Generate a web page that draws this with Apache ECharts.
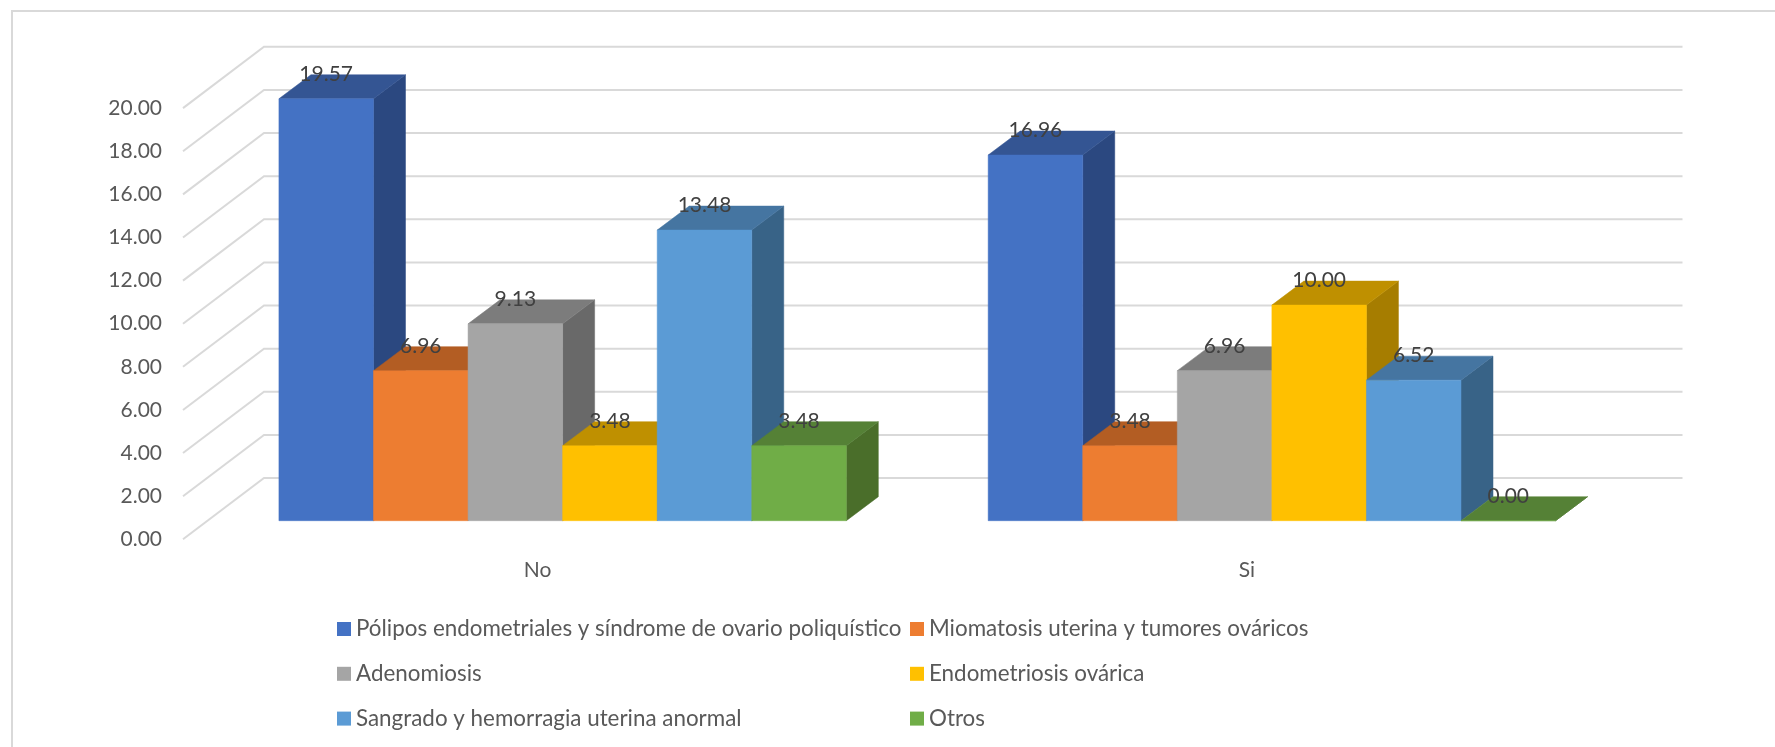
<!DOCTYPE html>
<html>
<head>
<meta charset="utf-8">
<style>html,body{margin:0;padding:0;background:#fff}#c{width:1775px;height:747px}</style>
<script src="https://cdn.jsdelivr.net/npm/echarts@6/dist/echarts.min.js"></script>
</head>
<body>
<div id="c"></div>
<script>
const categories = ['No', 'Si'];
const ticks = [0, 2, 4, 6, 8, 10, 12, 14, 16, 18, 20];
const polipos = [19.57, 16.96];
const miomatosis = [6.96, 3.48];
const adenomiosis = [9.13, 6.96];
const endometriosis = [3.48, 10.00];
const sangrado = [13.48, 6.52];
const otros = [3.48, 0.00];
const names = [
  'Pólipos endometriales y síndrome de ovario poliquístico',
  'Miomatosis uterina y tumores ováricos',
  'Adenomiosis',
  'Endometriosis ovárica',
  'Sangrado y hemorragia uterina anormal',
  'Otros'
];
const valuesBySeries = [polipos, miomatosis, adenomiosis, endometriosis, sangrado, otros];
const front = ['#4472C4', '#ED7D31', '#A5A5A5', '#FFC000', '#5B9BD5', '#70AD47'];
const top_ = ['#345593', '#B35D23', '#7C7C7C', '#BF9000', '#4575A1', '#558136'];
const side = ['#2B4880', '#9C5220', '#696969', '#A67D00', '#386387', '#4A6E2A'];

const FONT = 'Lato';
const FS = 21;
const LEGEND_FS = 22.4;
// scene geometry relative to the floor's front edge (the grid)
const INSET = [25, -18.6];   // bars' front plane
const BACK = [81, -61.3];    // back wall
const DEPTH = [32, -24];     // bar depth
const GAP = 1.5;             // gap width in bar widths

function barRender(si) {
  return function (params, api) {
    const cat = api.value(0), val = api.value(1);
    const base = api.coord([cat, 0]);
    const tip = api.coord([cat, val]);
    const bw = api.size([1, 0])[0] / (valuesBySeries.length + GAP);
    const x0 = base[0] + INSET[0] + (si - valuesBySeries.length / 2) * bw;
    const x1 = x0 + bw;
    const yb = base[1] + INSET[1];
    const yt = tip[1] + INSET[1];
    const dx = DEPTH[0], dy = DEPTH[1];
    const poly = (pts, color) => ({
      type: 'polygon',
      shape: { points: pts },
      style: { fill: color, stroke: color, lineWidth: 0.5 }
    });
    return {
      type: 'group',
      children: [
        poly([[x1, yb], [x1 + dx, yb + dy], [x1 + dx, yt + dy], [x1, yt]], side[si]),
        poly([[x0, yt], [x1, yt], [x1 + dx, yt + dy], [x0 + dx, yt + dy]], top_[si]),
        poly([[x0, yb], [x1, yb], [x1, yt], [x0, yt]], front[si]),
        {
          type: 'text',
          z2: 100,
          style: {
            x: (x0 + x1) / 2,
            y: yt - 24.5,
            text: val.toFixed(2),
            fill: '#404040',
            font: FS + 'px ' + FONT,
            align: 'center',
            verticalAlign: 'middle'
          }
        }
      ]
    };
  };
}

function wallRender(params, api) {
  const cs = params.coordSys;
  const p = api.coord([0, api.value(1)]);
  const xl = cs.x, xr = cs.x + cs.width, y = p[1];
  return {
    type: 'polyline',
    shape: { points: [[xl, y], [xl + BACK[0], y + BACK[1]], [xr + BACK[0], y + BACK[1]]] },
    style: { fill: 'none', stroke: '#d9d9d9', lineWidth: 2 }
  };
}

const series = [{
  type: 'custom',
  name: 'walls',
  silent: true,
  renderItem: wallRender,
  encode: { x: 0, y: 1 },
  data: ticks.map(t => [0, t])
}];
names.forEach((n, i) => {
  series.push({
    type: 'custom',
    name: n,
    renderItem: barRender(i),
    encode: { x: 0, y: 1 },
    itemStyle: { color: front[i] },
    data: valuesBySeries[i].map((v, c) => [c, v])
  });
});

const legendBase = {
  orient: 'vertical',
  top: 618,
  icon: 'rect',
  itemWidth: 14,
  itemHeight: 14,
  itemGap: 22.8,
  padding: 0,
  selectedMode: false,
  textStyle: { fontFamily: FONT, fontSize: LEGEND_FS, color: '#595959', lineHeight: 21 }
};

const chart = echarts.init(document.getElementById('c'), null, { renderer: 'canvas' });
chart.setOption({
  animation: false,
  backgroundColor: '#fff',
  tooltip: { show: false },
  grid: { left: 183, width: 1418.5, top: 108.1, height: 431.2 },
  xAxis: {
    type: 'category',
    data: categories,
    axisLine: { show: false },
    axisTick: { show: false },
    splitLine: { show: false },
    axisLabel: { margin: 20, fontFamily: FONT, fontSize: FS, color: '#595959' }
  },
  yAxis: {
    type: 'value',
    min: 0,
    max: 20,
    interval: 2,
    axisLine: { show: false },
    axisTick: { show: false },
    splitLine: { show: false },
    axisLabel: {
      margin: 21,
      fontFamily: FONT,
      fontSize: FS,
      color: '#595959',
      padding: [3, 0, 0, 0],
      formatter: v => v.toFixed(2)
    }
  },
  legend: [
    Object.assign({}, legendBase, { left: 337, data: [names[0], names[2], names[4]] }),
    Object.assign({}, legendBase, { left: 910, data: [names[1], names[3], names[5]] })
  ],
  graphic: [{
    type: 'polyline',
    silent: true,
    shape: { points: [[12, 760], [12, 11], [1790, 11]] },
    style: { fill: 'none', stroke: '#d9d9d9', lineWidth: 2 }
  }],
  series: series
});
</script>
</body>
</html>
